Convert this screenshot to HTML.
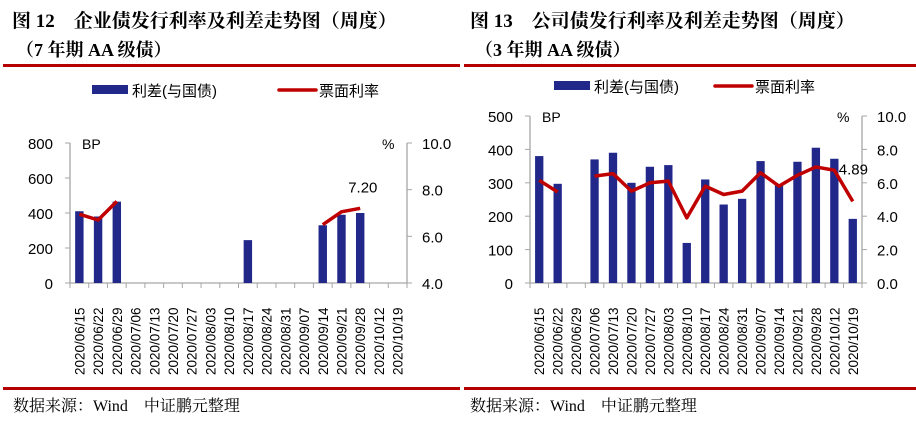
<!DOCTYPE html>
<html><head><meta charset="utf-8"><style>
body{margin:0;background:#fff;}
svg text{font-family:"Liberation Sans","Noto Sans CJK SC",sans-serif;}
.t{font-family:"Liberation Serif","Noto Serif CJK SC",serif;font-weight:bold;font-size:19px;fill:#000}
.st{font-family:"Liberation Serif","Noto Serif CJK SC",serif;font-weight:bold;font-size:18px;fill:#000}
.src{font-family:"Liberation Serif","Noto Serif CJK SC",serif;font-size:16px;fill:#000}
</style></head><body>
<svg id="c" width="916" height="417" xmlns="http://www.w3.org/2000/svg">
<text class="t" x="12" y="27">图 12　企业债发行利率及利差走势图（周度）</text>
<text class="st" x="16" y="56">（7 年期 AA 级债）</text>
<text class="t" x="470" y="27">图 13　公司债发行利率及利差走势图（周度）</text>
<text class="st" x="475" y="56">（3 年期 AA 级债）</text>
<rect x="3" y="64" width="457" height="3" fill="#b40000"/>
<rect x="464" y="64" width="452" height="3" fill="#b40000"/>
<rect x="3" y="387" width="457" height="3" fill="#b40000"/>
<rect x="464" y="387" width="452" height="3" fill="#b40000"/>
<text class="src" x="13" y="411">数据来源：Wind　中证鹏元整理</text>
<text class="src" x="470" y="411">数据来源：Wind　中证鹏元整理</text>
</svg>
<script>
const categories=["2020/06/15","2020/06/22","2020/06/29","2020/07/06","2020/07/13","2020/07/20","2020/07/27","2020/08/03","2020/08/10","2020/08/17","2020/08/24","2020/08/31","2020/09/07","2020/09/14","2020/09/21","2020/09/28","2020/10/12","2020/10/19"];
const spreadLeft=[410,380,465,0,0,0,0,0,0,245,0,0,0,330,390,400,0,0];
const rateLeft=[6.95,6.7,7.5,null,null,null,null,null,null,null,null,null,null,6.5,7.05,7.2,null,null];
const leftTicksL=[0,200,400,600,800];
const rightTicksL=[4.0,6.0,8.0,10.0];
const spreadRight=[380,297,0,370,390,300,348,353,120,310,235,252,365,295,363,405,372,192];
const rateRight=[6.15,5.45,null,6.4,6.55,5.5,6.0,6.1,3.9,5.8,5.3,5.5,6.6,5.8,6.45,6.95,6.75,4.89];
const leftTicksR=[0,100,200,300,400,500];
const rightTicksR=[0.0,2.0,4.0,6.0,8.0,10.0];

const svg=document.getElementById('c');
const NS='http://www.w3.org/2000/svg';
function mk(tag,attrs,parent){const e=document.createElementNS(NS,tag);for(const k in attrs)e.setAttribute(k,attrs[k]);(parent||svg).appendChild(e);return e;}

function chart(o){
  const g=mk('g',{});
  
  
  const n=categories.length, step=(o.x1-o.x0)/n;
  const yL=v=>o.yb-(v-o.lmin)/(o.lmax-o.lmin)*(o.yb-o.yt);
  const yR=v=>o.yb-(v-o.rmin)/(o.rmax-o.rmin)*(o.yb-o.yt);
  const xc=i=>o.x0+step*(i+0.5);
  const ax=mk('path',{d:`M${o.x0},${o.yt}V${o.yb}H${o.x1}V${o.yt}`,stroke:'#a6a6a6',fill:'none','stroke-width':1.3},g);
  
  o.lt.forEach(v=>{const y=yL(v);mk('line',{x1:o.x0-5,x2:o.x0,y1:y,y2:y,stroke:'#a6a6a6'},g);
    const t=mk('text',{x:o.x0-17,y:y+6,'text-anchor':'end','font-size':15,fill:'#000'},g);t.textContent=v;
    });
  o.rt.forEach(v=>{const y=yR(v);mk('line',{x1:o.x1,x2:o.x1+5,y1:y,y2:y,stroke:'#a6a6a6'},g);
    const t=mk('text',{x:o.x1+15,y:y+6,'font-size':15,fill:'#000'},g);t.textContent=v.toFixed(1);
    });
  for(let i=0;i<=n;i++){const x=o.x0+step*i;mk('line',{x1:x,x2:x,y1:o.yb,y2:o.yb+5,stroke:'#a6a6a6'},g);}
  const bp=mk('text',{x:o.x0+12,y:o.yt+6,'font-size':14,fill:'#000'},g);bp.textContent='BP';
  
  const pc=mk('text',{x:o.x1-25,y:o.yt+6,'font-size':14,fill:'#000'},g);pc.textContent='%';
  
  o.spread.forEach((v,i)=>{if(!v)return;const bw=step*0.45;
    const r=mk('rect',{x:xc(i)-bw/2,y:yL(v),width:bw,height:o.yb-yL(v),fill:'#22288a'},g);
    });
  let d='',pen=false;
  o.rate.forEach((v,i)=>{if(v==null){pen=false;return;}d+=(pen?'L':'M')+xc(i)+','+yR(v);pen=true;});
  const p=mk('path',{d:d,stroke:'#c00000','stroke-width':3.5,fill:'none','stroke-linejoin':'round'},g);
  
  let li=o.rate.length-1;while(o.rate[li]==null)li--;
  const lb=mk('text',{x:xc(li)+o.lblDx,y:yR(o.rate[li])+o.lblDy,'font-size':15,fill:'#000'},g);lb.textContent=o.rate[li].toFixed(2);
  
  categories.forEach((c,i)=>{const t=mk('text',{transform:`translate(${xc(i)+5},${o.yb+92}) rotate(-90)`,'font-size':13.5,fill:'#000'},g);t.textContent=c;
    });
  const lr=mk('rect',{x:o.lg,y:o.ly-5,width:36,height:9,fill:'#22288a'},g);
  
  const lt1=mk('text',{x:o.lg+40,y:o.ly+6,'font-size':15,fill:'#000'},g);lt1.textContent='利差(与国债)';
  
  const ll=mk('line',{x1:o.lg2,x2:o.lg2+37,y1:o.ly,y2:o.ly,stroke:'#c00000','stroke-width':3.5,'stroke-linecap':'round'},g);
  
  const lt2=mk('text',{x:o.lg2+40,y:o.ly+6,'font-size':15,fill:'#000'},g);lt2.textContent='票面利率';
  
}
chart({name:'chart-left',x0:70,x1:407,yt:143,yb:283,lmin:0,lmax:800,rmin:4,rmax:10,lt:leftTicksL,rt:rightTicksL,spread:spreadLeft,rate:rateLeft,lblDx:-12,lblDy:-16,lg:92,lg2:279,ly:90});
chart({name:'chart-right',x0:530,x1:862,yt:116,yb:283,lmin:0,lmax:500,rmin:0,rmax:10,lt:leftTicksR,rt:rightTicksR,spread:spreadRight,rate:rateRight,lblDx:-14,lblDy:-27,lg:554,lg2:715,ly:86});
</script>
</body></html>
